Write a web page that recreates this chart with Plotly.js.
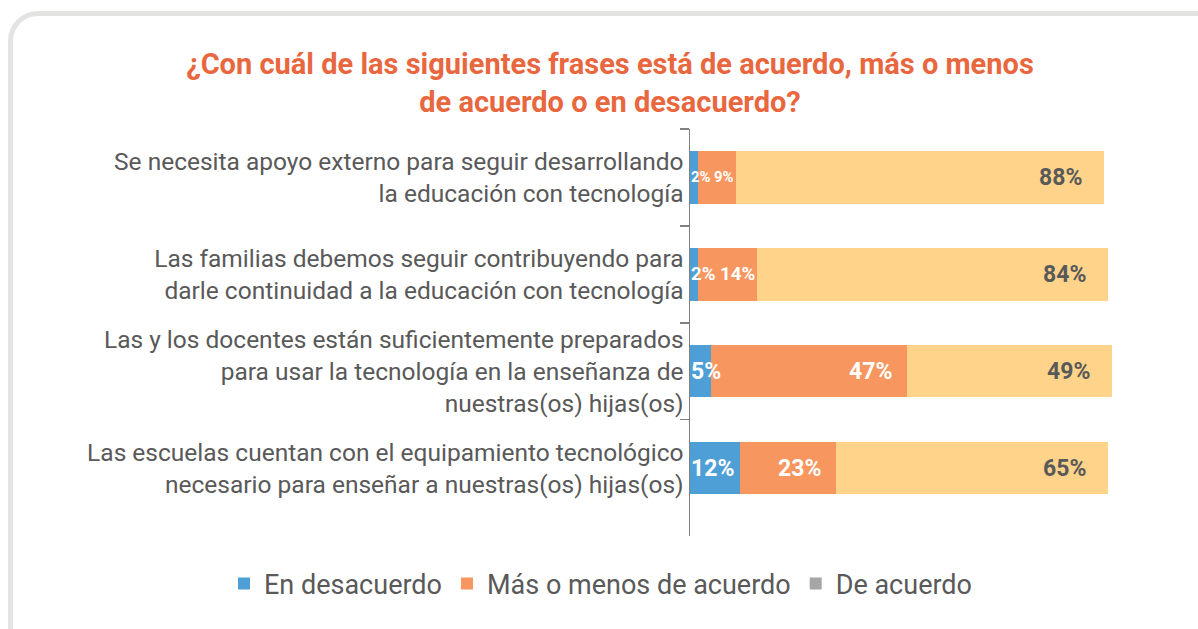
<!DOCTYPE html>
<html>
<head>
<meta charset="utf-8">
<script src="https://cdn.plot.ly/plotly-3.0.1.min.js"></script>
<style>
  html, body { margin: 0; padding: 0; background: #ffffff; overflow: hidden; }
  #frame {
    position: absolute; left: 8px; top: 11px; width: 1220px; height: 660px;
    border: 5px solid #E3E3E2; border-radius: 30px; box-sizing: border-box; z-index: 0;
  }
  #chart { position: absolute; left: 0; top: 0; width: 1198px; height: 629px; z-index: 1; }
</style>
</head>
<body>
<div id="frame"></div>
<div id="chart"></div>
<script>
// ---- data ----
const categories = [
  "Se necesita apoyo externo para seguir desarrollando<br>la educación con tecnología",
  "Las familias debemos seguir contribuyendo para<br>darle continuidad a la educación con tecnología",
  "Las y los docentes están suficientemente preparados<br>para usar la tecnología en la enseñanza de<br>nuestras(os) hijas(os)",
  "Las escuelas cuentan con el equipamiento tecnológico<br>necesario para enseñar a nuestras(os) hijas(os)"
];
const enDesacuerdo = [2, 2, 5, 12];
const masOMenos = [9, 14, 47, 23];
const deAcuerdo = [88, 84, 49, 65];
const seriesNames = ["En desacuerdo", "Más o menos de acuerdo", "De acuerdo"];
const titleText = "¿Con cuál de las siguientes frases está de acuerdo, más o menos<br>de acuerdo o en desacuerdo?";

// ---- styles ----
const colBlue = "#4E9FD6", colOrange = "#F7965F", colYellow = "#FFD48A", colLegendGrey = "#A6A6A6";
const textGrey = "#595959";
const W = 1198, H = 629;
const M = { l: 690, r: 86, t: 129, b: 93 };
const xMax = 101;
const plotW = W - M.l - M.r;
const plotH = H - M.t - M.b;
const k = plotW / xMax;
const baseFs = 23;

function emW(s) { // approx Roboto Bold advance widths (slightly generous)
  let w = 0;
  for (const ch of s) w += (ch === "%") ? 0.76 : 0.58;
  return w;
}

const traces = [
  { type: "bar", orientation: "h", name: seriesNames[0], y: categories, x: enDesacuerdo,
    marker: { color: colBlue }, showlegend: true, hoverinfo: "x+name" },
  { type: "bar", orientation: "h", name: seriesNames[1], y: categories, x: masOMenos,
    marker: { color: colOrange }, showlegend: true, hoverinfo: "x+name" },
  { type: "bar", orientation: "h", name: seriesNames[2], y: categories, x: deAcuerdo,
    marker: { color: colYellow }, showlegend: false, hoverinfo: "x+name" },
  { type: "bar", orientation: "h", name: seriesNames[2], y: [null], x: [null],
    marker: { color: colLegendGrey }, showlegend: true, hoverinfo: "skip" }
];

const annotations = [];
categories.forEach((cat, i) => {
  const b = enDesacuerdo[i], o = masOMenos[i], a = deAcuerdo[i];
  const tb = b + "%", to = o + "%", ta = a + "%";
  const bPx = b * k, boPx = (b + o) * k;
  let fs = baseFs;
  let blueFits = emW(tb) * fs + 6 <= bPx;
  let blueRight = blueFits ? (bPx / 2 + emW(tb) * fs / 2) : (2 + emW(tb) * fs);
  let pad = 14;
  let orangeLeft = boPx - pad - emW(to) * fs;
  if (orangeLeft < blueRight + 5) {
    pad = 1;
    fs = Math.min(baseFs, (boPx - 5 - pad) / (emW(tb) + emW(to)));
    blueFits = false;
  }
  const fontW = { family: "Roboto, sans-serif", size: fs, color: "#ffffff" };
  if (blueFits) {
    annotations.push({ x: b / 2, y: cat, xref: "x", yref: "y", text: "<b>" + tb + "</b>", showarrow: false,
      xanchor: "center", yanchor: "middle", font: fontW });
  } else {
    annotations.push({ x: 0, y: cat, xref: "x", yref: "y", text: "<b>" + tb + "</b>", showarrow: false,
      xanchor: "left", yanchor: "middle", xshift: 0, borderpad: 0, font: fontW });
  }
  annotations.push({ x: b + o, y: cat, xref: "x", yref: "y", text: "<b>" + to + "</b>", showarrow: false,
    xanchor: "right", yanchor: "middle", xshift: -pad, borderpad: 0, font: fontW });
  annotations.push({ x: b + o + a, y: cat, xref: "x", yref: "y", text: "<b>" + ta + "</b>", showarrow: false,
    xanchor: "right", yanchor: "middle", xshift: -20,
    font: { family: "Roboto, sans-serif", size: baseFs, color: textGrey } });
});

const layout = {
  width: W, height: H,
  margin: M,
  paper_bgcolor: "rgba(0,0,0,0)",
  plot_bgcolor: "rgba(0,0,0,0)",
  barmode: "stack",
  bargap: 0.46,
  font: { family: "Roboto, sans-serif", color: textGrey },
  title: {
    text: "<b>" + titleText + "</b>",
    font: { family: "Roboto, sans-serif", size: 29, color: "#E9673E" },
    xref: "container", yref: "container",
    x: 610 / W, xanchor: "center",
    y: 1 - 74 / H, yanchor: "top",
    automargin: false
  },
  xaxis: { range: [0, xMax], visible: false, fixedrange: true },
  yaxis: {
    type: "category",
    categoryarray: categories,
    range: [3.7, -0.5],
    autorange: false,
    tickson: "boundaries",
    ticks: "outside", ticklen: 9, tickwidth: 1.5, tickcolor: "#808080",
    showline: true, linecolor: "#808080", linewidth: 1.5,
    showgrid: false, zeroline: false,
    tickfont: { family: "Roboto, sans-serif", size: 24.5, color: textGrey },
    fixedrange: true
  },
  showlegend: true,
  legend: {
    orientation: "h",
    xref: "paper", yref: "paper",
    x: (224 - M.l) / plotW, xanchor: "left",
    y: -(584 - (H - M.b)) / plotH, yanchor: "middle",
    font: { family: "Roboto, sans-serif", size: 27, color: textGrey },
    traceorder: "normal",
    bgcolor: "rgba(0,0,0,0)"
  },
  annotations: annotations
};

Plotly.newPlot("chart", traces, layout, { displayModeBar: false, staticPlot: true });
</script>
</body>
</html>
